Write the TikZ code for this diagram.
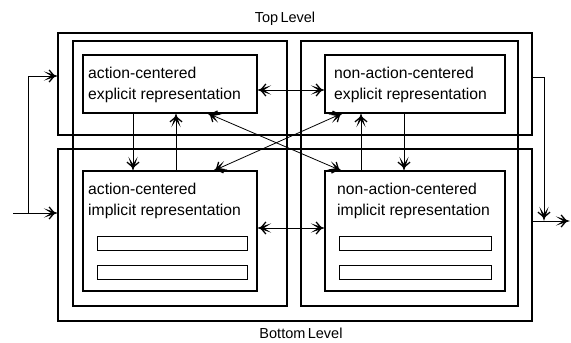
\documentclass[tikz,border=0pt]{standalone}
\usepackage{fontspec}
\setmainfont{Liberation Sans}
\usetikzlibrary{arrows.meta}
\tikzset{
  >={Straight Barb[length=5pt,width=12pt,line width=1.3pt,sep=-11pt]Stealth[length=14pt,width=9pt,inset=7pt]},
  box/.style={draw, rectangle, inner sep=0pt, outer sep=0pt, anchor=north west, line width=1.1pt},
  bar/.style={box, line width=1pt},
  lbl/.style={anchor=base west, inner sep=0pt, font=\fontsize{15.7}{18}\selectfont},
  lvl/.style={anchor=base, inner sep=0pt, font=\fontsize{14.5}{17}\selectfont},
  conn/.style={line width=1pt},
  diag/.style={line width=0.8pt},
}
\begin{document}
\begin{tikzpicture}[x=1pt, y=-1pt]
\useasboundingbox (0,0) rectangle (571,343);

% level frames
\node[box, minimum width=474pt, minimum height=102pt] (topL) at (58,33) {};
\node[box, minimum width=474pt, minimum height=172pt] (botL) at (58,149) {};

% subsystem frames
\node[box, minimum width=214pt, minimum height=265pt] (acs) at (73,41) {};
\node[box, minimum width=217pt, minimum height=265pt] (nacs) at (301,41) {};

% representation boxes
\node[box, fill=white, minimum width=174pt, minimum height=58pt] (ae) at (83,55) {};
\node[box, fill=white, minimum width=180pt, minimum height=58pt] (ne) at (325,55) {};
\node[box, fill=white, minimum width=174pt, minimum height=120pt] (ai) at (83,171) {};
\node[box, fill=white, minimum width=180pt, minimum height=120pt] (ni) at (325,171) {};

% inner bars of the implicit boxes
\node[bar, minimum width=150pt, minimum height=14pt] (ai1) at (97,236) {};
\node[bar, minimum width=150pt, minimum height=14pt] (ai2) at (97,265) {};
\node[bar, minimum width=152pt, minimum height=14pt] (ni1) at (339,236) {};
\node[bar, minimum width=152pt, minimum height=14pt] (ni2) at (339,265) {};

% texts
\node[lbl] (ae1) at (88,78) {action-centered};
\node[lbl] (ae2) at (88,99) {explicit representation};
\node[lbl] (ne1) at (334,78) {non-action-centered};
\node[lbl] (ne2) at (334,99) {explicit representation};
\node[lbl] (ai1t) at (88,194) {action-centered};
\node[lbl] (ai2t) at (88,215) {implicit representation};
\node[lbl] (ni1t) at (337,194) {non-action-centered};
\node[lbl] (ni2t) at (337,215) {implicit representation};
\node[lvl] (toplbl) at (285,22) {Top\,Level};
\node[lvl] (botlbl) at (301,338) {Bottom\,Level};

% input
\coordinate (in) at (13,213);
\coordinate (inJ) at (28,213);
\coordinate (inT) at (28,76);
\draw[conn,->] (in) -- (botL.west |- in);
\draw[conn,->] (inJ) -- (inT) -- (topL.west |- inT);

% output
\coordinate (oT) at (544,77);
\coordinate (oJ) at (544,221);
\coordinate (out) at (570,221);
\draw[conn,->] (topL.east |- oT) -- (oT) -- (oJ);
\draw[conn,->] (botL.east |- oJ) -- (out);

% horizontal links
\draw[conn,<->] ([yshift=-6pt]ae.east) -- ([yshift=-6pt]ne.west);
\draw[conn,<->] ([yshift=3pt]ai.east) -- ([yshift=3pt]ni.west);

% vertical links
\draw[conn,->] ([xshift=-37pt]ae.south) -- ([xshift=-37pt]ai.north);
\draw[conn,->] ([xshift=6pt]ai.north) -- ([xshift=6pt]ae.south);
\draw[conn,->] ([xshift=-54pt]ni.north) -- ([xshift=-54pt]ne.south);
\draw[conn,->] ([xshift=-11pt]ne.south) -- ([xshift=-11pt]ni.north);

% diagonal links
\draw[diag,<->] ([xshift=37pt]ae.south) -- ([xshift=-73pt]ni.north);
\draw[diag,<->] ([xshift=43pt]ai.north) -- ([xshift=-72pt]ne.south);
\end{tikzpicture}
\end{document}
